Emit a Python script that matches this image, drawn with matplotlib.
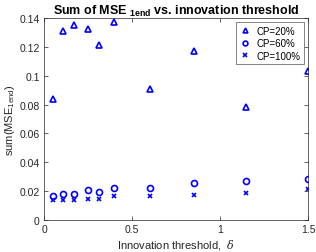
import matplotlib
matplotlib.use('Agg')
import matplotlib.pyplot as plt
import numpy as np

plt.rcParams['font.family'] = ['Liberation Sans', 'DejaVu Sans']
plt.rcParams['mathtext.fontset'] = 'custom'
plt.rcParams['mathtext.rm'] = 'Liberation Sans'
plt.rcParams['mathtext.bf'] = 'Liberation Sans:bold'
plt.rcParams['mathtext.it'] = 'DejaVu Serif:italic'

delta = [0.05, 0.11, 0.17, 0.25, 0.31, 0.40, 0.60, 0.85, 1.15, 1.50]
mse_cp20 = [0.0836, 0.1308, 0.1353, 0.1326, 0.1214, 0.1371, 0.0907, 0.1169, 0.0786, 0.1031]
mse_cp60 = [0.0168, 0.0177, 0.0180, 0.0205, 0.0191, 0.0221, 0.0219, 0.0257, 0.0269, 0.0285]
mse_cp100 = [0.0137, 0.0138, 0.0141, 0.0149, 0.0148, 0.0163, 0.0169, 0.0170, 0.0187, 0.0218]

blue = '#0000ff'
edge = '#262626'

fig = plt.figure(figsize=(3.16, 2.53), dpi=100)
ax = fig.add_axes([44 / 316, 1 - 221 / 253, 264 / 316, 202 / 253])

ax.plot(delta, mse_cp20, '^', ms=4.3, mfc='none', mec=blue, mew=1.2, ls='none', label='CP=20%')
ax.plot(delta, mse_cp60, 'o', ms=4.3, mfc='none', mec=blue, mew=1.2, ls='none', label='CP=60%')
ax.plot(delta, mse_cp100, 'x', ms=2.8, mec=blue, mew=1.2, ls='none', label='CP=100%')

ax.set_xlim(0, 1.5)
ax.set_ylim(0, 0.14)
ax.set_xticks([0, 0.5, 1, 1.5])
ax.set_xticklabels(['0', '0.5', '1', '1.5'])
ax.set_yticks(np.arange(0, 0.141, 0.02))
ax.set_yticklabels(['0', '0.02', '0.04', '0.06', '0.08', '0.1', '0.12', '0.14'])
ax.tick_params(direction='in', length=3, width=0.5, labelsize=7.5, colors=edge,
               top=True, right=True, pad=3)
for s in ax.spines.values():
    s.set_linewidth(0.5)
    s.set_color(edge)

ax.set_title(r'Sum of MSE $_{\mathbf{1end}}$ vs. innovation threshold',
             fontsize=9, fontweight='bold', pad=3)
ax.set_xlabel(r'Innovation threshold,  $\delta$', fontsize=8, color=edge, labelpad=2)
ax.set_ylabel(r'sum(MSE$_{\mathrm{1end}}$)', fontsize=8, color=edge, labelpad=2)

leg = ax.legend(loc='upper right', fontsize=7, frameon=True, fancybox=False,
                handlelength=1.0, handletextpad=0.7, borderpad=0.35, labelspacing=0.25,
                borderaxespad=0.45, markerscale=0.8)
leg.get_frame().set_edgecolor(edge)
leg.get_frame().set_linewidth(0.5)

fig.savefig('out.png', dpi=100)
